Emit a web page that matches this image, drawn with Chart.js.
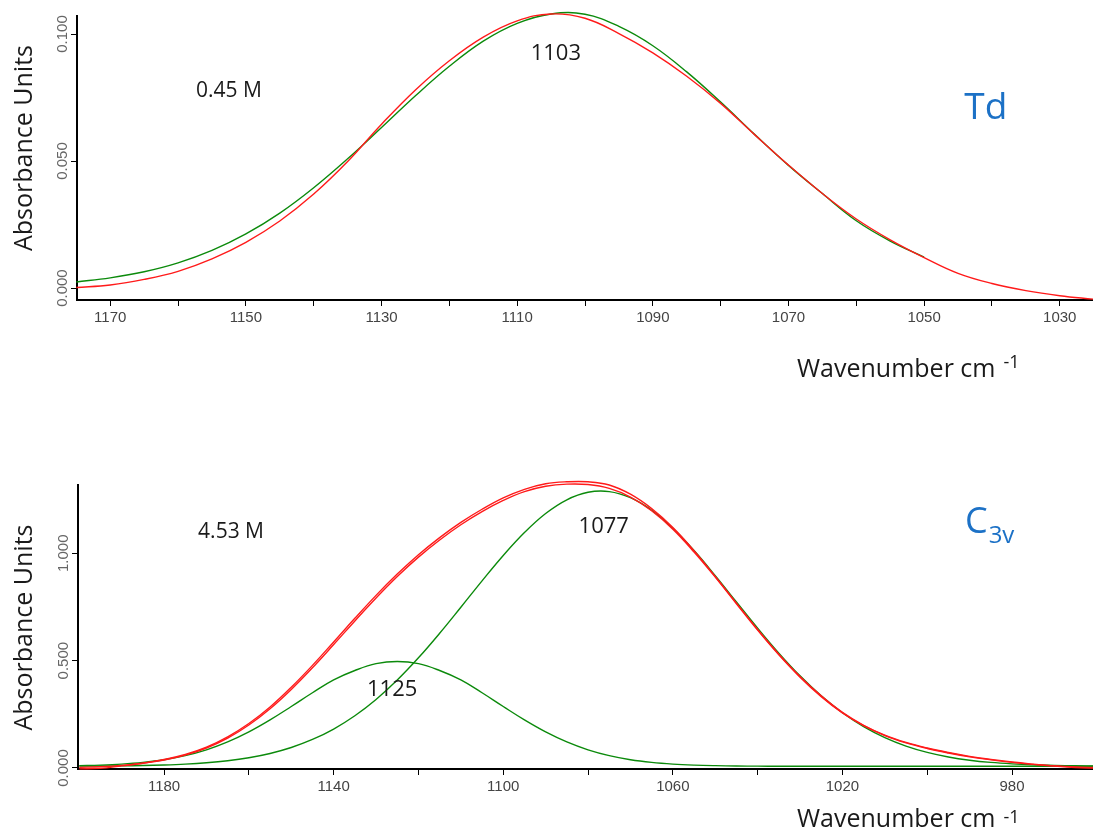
<!DOCTYPE html>
<html>
<head>
<meta charset="utf-8">
<script src="https://cdn.jsdelivr.net/npm/chart.js@4.4.1/dist/chart.umd.min.js"></script>
<style>
  html, body { margin: 0; padding: 0; background: #fff; }
  #wrap { position: relative; width: 1093px; height: 836px; overflow: hidden; }
  .panel { position: absolute; left: 0; width: 1093px; height: 418px; }
  #topPanel { top: 0; }
  #bottomPanel { top: 418px; }
</style>
</head>
<body>
<div id="wrap">
  <div class="panel" id="topPanel"><canvas id="tdChart" width="1093" height="418"></canvas></div>
  <div class="panel" id="bottomPanel"><canvas id="c3vChart" width="1093" height="418"></canvas></div>
</div>
<script>
// Td band, 0.45 M
const tdWavenumbers = [1175, 1170, 1165, 1160, 1155, 1150, 1145, 1140, 1135, 1130, 1125, 1120, 1115, 1110, 1105,
                       1100, 1095, 1090, 1085, 1080, 1075, 1070, 1065, 1060, 1055, 1050, 1045, 1040, 1035, 1030, 1025];
const tdMeasured = [0.0002, 0.0012, 0.0034, 0.0066, 0.0115, 0.0180, 0.0264, 0.0370, 0.0498, 0.0645, 0.0780, 0.0895, 0.0988, 0.1052, 0.1079,
                    0.1062, 0.1002, 0.0926, 0.0834, 0.0727, 0.0604, 0.0484, 0.0372, 0.0272, 0.0190, 0.0120, 0.0058, 0.0018, -0.0010, -0.0030, -0.0044];
// fitted component, 1175 .. 1050
const tdBand1103 = [0.0024, 0.0040, 0.0064, 0.0099, 0.0148, 0.0213, 0.0295, 0.0395, 0.0509, 0.0632, 0.0757, 0.0873, 0.0972, 0.1042, 0.1079,
                    0.1078, 0.1030, 0.0954, 0.0851, 0.0732, 0.0605, 0.0483, 0.0372, 0.0265, 0.0185, 0.0122];
const tdXTicks = [1170, 1160, 1150, 1140, 1130, 1120, 1110, 1100, 1090, 1080, 1070, 1060, 1050, 1040, 1030];
const tdXLabels = [1170, 1150, 1130, 1110, 1090, 1070, 1050, 1030];
const tdYTicks = [0, 0.05, 0.1];

// C3v bands, 4.53 M
const c3vWavenumbers = [1200, 1195, 1190, 1185, 1180, 1175, 1170, 1165, 1160, 1155, 1150, 1145, 1140, 1135, 1130, 1125, 1120,
                        1115, 1110, 1105, 1100, 1095, 1090, 1085, 1080, 1075, 1070, 1065, 1060, 1055, 1050, 1045, 1040, 1035,
                        1030, 1025, 1020, 1015, 1010, 1005, 1000, 995, 990, 985, 980, 975, 970, 965, 960];
const c3vMeasured = [-0.004, -0.002, 0.010, 0.022, 0.040, 0.063, 0.097, 0.145, 0.207, 0.284, 0.376, 0.478, 0.587, 0.697, 0.804,
                     0.903, 0.993, 1.073, 1.144, 1.205, 1.258, 1.298, 1.324, 1.333, 1.333, 1.318, 1.275, 1.208, 1.120, 1.012,
                     0.892, 0.768, 0.645, 0.530, 0.426, 0.336, 0.259, 0.199, 0.153, 0.119, 0.093, 0.072, 0.054, 0.040, 0.028,
                     0.018, 0.009, 0.002, -0.001];
const c3vFitSum = [0.003, 0.006, 0.012, 0.022, 0.037, 0.060, 0.093, 0.139, 0.200, 0.276, 0.366, 0.467, 0.575, 0.685, 0.792,
                   0.892, 0.982, 1.062, 1.133, 1.194, 1.246, 1.287, 1.312, 1.322, 1.320, 1.302, 1.262, 1.198, 1.112, 1.006,
                   0.889, 0.765, 0.642, 0.527, 0.423, 0.332, 0.256, 0.197, 0.151, 0.117, 0.091, 0.070, 0.052, 0.038, 0.026,
                   0.017, 0.010, 0.005, 0.002];
const c3vBand1125 = [0.0108, 0.0134, 0.0181, 0.0260, 0.0385, 0.0576, 0.0847, 0.1215, 0.1682, 0.2241, 0.2864, 0.3505, 0.4104, 0.4540, 0.4858,
                     0.4960, 0.4858, 0.4540, 0.4104, 0.3505, 0.2864, 0.2241, 0.1682, 0.1215, 0.0847, 0.0576, 0.0385, 0.0260, 0.0181, 0.0134,
                     0.0108, 0.0094, 0.0086, 0.0083, 0.0081, 0.0080, 0.0080, 0.0080, 0.0080, 0.0080, 0.0080, 0.0080, 0.0080, 0.0080, 0.0080,
                     0.0080, 0.0080, 0.0080, 0.0080];
const c3vBand1077 = [0.0086, 0.0091, 0.0101, 0.0116, 0.0141, 0.0181, 0.0244, 0.0339, 0.0479, 0.0677, 0.0955, 0.1328, 0.1815, 0.2434, 0.3193,
                     0.4095, 0.5130, 0.6273, 0.7486, 0.8716, 0.9900, 1.0968, 1.1854, 1.2492, 1.2842, 1.2874, 1.2587, 1.2003, 1.1163, 1.0126,
                     0.8959, 0.7732, 0.6512, 0.5350, 0.4291, 0.3362, 0.2574, 0.1927, 0.1416, 0.1021, 0.0726, 0.0513, 0.0363, 0.0260, 0.0192,
                     0.0148, 0.0120, 0.0103, 0.0093];
const c3vXTicks = [1180, 1160, 1140, 1120, 1100, 1080, 1060, 1040, 1020, 1000, 980];
const c3vXLabels = [1180, 1140, 1100, 1060, 1020, 980];
const c3vYTicks = [0, 0.5, 1.0];

const RED = '#ff1a1a';
const GREEN = '#0b8a0b';
const BLUE = '#1c71c6';
const TITLE_FONT = '25px "Open Sans"';

// free text layer: labels placed in data units (at) or canvas pixels (pos)
function textLayer(items) {
    return {
        id: 'textLayer',
        afterDraw(chart) {
            const ctx = chart.ctx;
            const sx = chart.scales.x;
            const sy = chart.scales.y;
            items.forEach(t => {
                const px = t.at ? sx.getPixelForValue(t.at[0]) : t.pos[0];
                const py = t.at ? sy.getPixelForValue(t.at[1]) : t.pos[1];
                ctx.save();
                ctx.translate(px, py);
                if (t.rotate) ctx.rotate(t.rotate);
                ctx.font = t.font;
                ctx.fillStyle = t.color || '#1a1a1a';
                ctx.textAlign = t.align || 'center';
                ctx.textBaseline = t.baseline || 'alphabetic';
                ctx.fillText(t.text, 0, 0);
                if (t.sub) {
                    const w = ctx.measureText(t.text).width;
                    ctx.font = t.sub.font;
                    ctx.textAlign = 'left';
                    ctx.fillText(t.sub.text, w + t.sub.dx, t.sub.dy);
                }
                ctx.restore();
            });
        }
    };
}

function toPoints(wavenumbers, values) {
    return values.map((v, i) => ({ x: wavenumbers[i], y: v }));
}

function spectrumLine(points, color) {
    return {
        data: points,
        borderColor: color,
        borderWidth: 1.4,
        pointRadius: 0,
        fill: false,
        tension: 0.4,
        clip: false
    };
}

// one absorbance panel with reversed wavenumber axis
function createSpectrumChart(canvasId, cfg) {
    const ctx = document.getElementById(canvasId);
    if (!ctx) return;

    new Chart(ctx, {
        type: 'line',
        data: { datasets: cfg.datasets },
        plugins: [textLayer(cfg.texts)],
        options: {
            responsive: false,
            animation: false,
            events: [],
            layout: { padding: { top: cfg.areaTop, left: 0, right: 0, bottom: 0 } },
            plugins: {
                legend: { display: false },
                tooltip: { enabled: false }
            },
            scales: {
                x: {
                    type: 'linear',
                    reverse: true,
                    min: cfg.xMin,
                    max: cfg.xMax,
                    afterBuildTicks: axis => { axis.ticks = cfg.xTicks.map(v => ({ value: v })); },
                    afterFit: axis => { axis.height = cfg.xHeight; },
                    border: { display: true, color: '#000', width: 2 },
                    grid: { drawOnChartArea: false, drawTicks: true, tickLength: 6, color: '#000', lineWidth: 1 },
                    ticks: {
                        autoSkip: false,
                        minRotation: 0,
                        maxRotation: 0,
                        padding: 3,
                        color: '#444',
                        font: { family: '"Liberation Sans", Arial', size: 15 },
                        callback: v => cfg.xLabels.includes(v) ? String(v) : ''
                    }
                },
                y: {
                    type: 'linear',
                    min: cfg.yMin,
                    max: cfg.yMax,
                    afterBuildTicks: axis => { axis.ticks = cfg.yTicks.map(v => ({ value: v })); },
                    afterFit: axis => { axis.width = cfg.yWidth; },
                    border: { display: true, color: '#000', width: 2 },
                    grid: { drawOnChartArea: false, drawTicks: true, tickLength: 6, color: '#000', lineWidth: 1 },
                    ticks: {
                        autoSkip: false,
                        minRotation: 90,
                        maxRotation: 90,
                        crossAlign: 'center',
                        padding: -11,
                        color: '#666',
                        font: { family: '"Liberation Sans", Arial', size: 15 },
                        callback: v => v.toFixed(3)
                    }
                }
            }
        }
    });
}

createSpectrumChart('tdChart', {
    areaTop: 16,
    xHeight: 118,
    yWidth: 77,
    xMin: 1025.1,
    xMax: 1174.9,
    yMin: -0.0047,
    yMax: 0.1071,
    xTicks: tdXTicks,
    xLabels: tdXLabels,
    yTicks: tdYTicks,
    datasets: [
        spectrumLine(toPoints(tdWavenumbers, tdMeasured), RED),
        spectrumLine(toPoints(tdWavenumbers, tdBand1103), GREEN)
    ],
    texts: [
        { text: '0.45 M', at: [1152.5, 0.0753], font: '21px "Open Sans"' },
        { text: '1103', at: [1104.3, 0.0898], font: '22px "Open Sans"' },
        { text: 'Td', at: [1040.9, 0.0665], font: '37px "Open Sans"', color: BLUE },
        { text: 'Absorbance Units', pos: [25, 148], rotate: -Math.PI / 2, baseline: 'middle', font: TITLE_FONT },
        { text: 'Wavenumber cm', pos: [797, 377], align: 'left', font: TITLE_FONT,
          sub: { text: '-1', font: '18px "Open Sans"', dx: 8, dy: -9 } }
    ]
});

createSpectrumChart('c3vChart', {
    areaTop: 67,
    xHeight: 67,
    yWidth: 78,
    xMin: 960.9,
    xMax: 1200.3,
    yMin: -0.0047,
    yMax: 1.318,
    xTicks: c3vXTicks,
    xLabels: c3vXLabels,
    yTicks: c3vYTicks,
    datasets: [
        spectrumLine(toPoints(c3vWavenumbers, c3vMeasured), RED),
        spectrumLine(toPoints(c3vWavenumbers, c3vFitSum), RED),
        spectrumLine(toPoints(c3vWavenumbers, c3vBand1125), GREEN),
        spectrumLine(toPoints(c3vWavenumbers, c3vBand1077), GREEN)
    ],
    texts: [
        { text: '4.53 M', at: [1164.2, 1.070], font: '21px "Open Sans"' },
        { text: '1077', at: [1076.3, 1.096], font: '22px "Open Sans"' },
        { text: '1125', at: [1126.2, 0.337], font: '22px "Open Sans"' },
        { text: 'C', at: [991.1, 1.0945], align: 'left', font: '36px "Open Sans"', color: BLUE,
          sub: { text: '3v', font: '24px "Open Sans"', dx: 1, dy: 10 } },
        { text: 'Absorbance Units', pos: [25, 209.5], rotate: -Math.PI / 2, baseline: 'middle', font: TITLE_FONT },
        { text: 'Wavenumber cm', pos: [797, 409], align: 'left', font: TITLE_FONT,
          sub: { text: '-1', font: '18px "Open Sans"', dx: 8, dy: -4 } }
    ]
});
</script>
</body>
</html>
